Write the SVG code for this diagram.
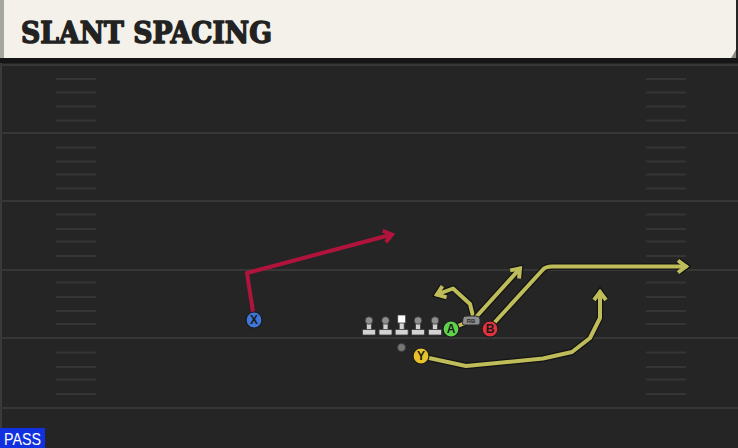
<svg xmlns="http://www.w3.org/2000/svg" width="738" height="448" viewBox="0 0 738 448">
<defs>
<style>
.yard{stroke:#373737;stroke-width:2;fill:none}
.hash{stroke:#353535;stroke-width:2;fill:none}
.ro{stroke:#141414;stroke-width:6.5;fill:none;stroke-linejoin:round;stroke-linecap:round}
.ry{stroke:#bfbd5a;stroke-width:4;fill:none;stroke-linejoin:round;stroke-linecap:round}
.rr{stroke:#b0143c;stroke-width:4;fill:none;stroke-linejoin:round;stroke-linecap:butt}
.pl{stroke:#1a1a1a;stroke-width:1.2}
.lt{font-family:"Liberation Sans",Arial,sans-serif;font-weight:bold;font-size:12px;fill:#1b1b1b;text-anchor:middle}
.lm{fill:#d2d2d2;stroke:#3a3a3a;stroke-width:0.8}
.hd{fill:#8e8e8e;stroke:#3a3a3a;stroke-width:0.8}
</style>
<marker id="ay" markerUnits="userSpaceOnUse" orient="auto" markerWidth="24" markerHeight="20" viewBox="-12 -10 24 20" refX="0" refY="0" overflow="visible">
<path d="M-8,-6 L0,0 L-8,6" fill="none" stroke="#bfbd5a" stroke-width="4" stroke-linejoin="miter"/>
</marker>
<marker id="ayo" markerUnits="userSpaceOnUse" orient="auto" markerWidth="24" markerHeight="20" viewBox="-12 -10 24 20" refX="0" refY="0" overflow="visible">
<path d="M-8,-6 L0,0 L-8,6" fill="none" stroke="#141414" stroke-width="6.5" stroke-linejoin="miter"/>
</marker>
<marker id="ar" markerUnits="userSpaceOnUse" orient="auto" markerWidth="24" markerHeight="20" viewBox="-12 -10 24 20" refX="0" refY="0" overflow="visible">
<path d="M-8,-6 L0,0 L-8,6" fill="none" stroke="#b0143c" stroke-width="4" stroke-linejoin="miter"/>
</marker>
<g id="lineman">
<rect class="lm" x="-2.5" y="2" width="5" height="9"/>
<rect class="lm" x="-6.5" y="9" width="13" height="5.5" rx="1"/>
<circle class="hd" cx="0" cy="0" r="3.8"/>
</g>
</defs>

<!-- field -->
<rect x="0" y="0" width="738" height="448" fill="#252525"/>
<rect x="0" y="58" width="738" height="5" fill="#151515"/>
<rect x="0" y="63" width="2" height="385" fill="#3a3a3a"/>
<g id="yardlines">
<line class="yard" x1="0" y1="65" x2="738" y2="65"/>
<line class="yard" x1="0" y1="133" x2="738" y2="133"/>
<line class="yard" x1="0" y1="201" x2="738" y2="201"/>
<line class="yard" x1="0" y1="270" x2="738" y2="270"/>
<line class="yard" x1="0" y1="338" x2="738" y2="338"/>
<line class="yard" x1="0" y1="408" x2="738" y2="408"/>
</g>
<g id="hashes">
<path class="hash" d="M56,79H96M56,92.5H96M56,106.5H96M56,120.5H96M56,147.5H96M56,161.5H96M56,174.5H96M56,188.5H96M56,214.5H96M56,229H96M56,241.5H96M56,256H96M56,282.5H96M56,297H96M56,311H96M56,324H96M56,352.5H96M56,367H96M56,379.5H96M56,394H96"/>
<path class="hash" d="M646,79H686M646,92.5H686M646,106.5H686M646,120.5H686M646,147.5H686M646,161.5H686M646,174.5H686M646,188.5H686M646,214.5H686M646,229H686M646,241.5H686M646,256H686M646,282.5H686M646,297H686M646,311H686M646,324H686M646,352.5H686M646,367H686M646,379.5H686M646,394H686"/>
</g>

<!-- header -->
<g id="header">
<polygon points="0,0 736,0 736,50 733,58 0,58" fill="#f4f1ea"/>
<polygon points="731,58 736,50 736,58" fill="#8a8a86"/>
<rect x="0" y="0" width="4" height="58" fill="#a6a6a0"/>
<text x="21" y="43" font-family="'DejaVu Serif',serif" font-weight="bold" font-size="29.5" fill="#222222" stroke="#222222" stroke-width="1.5" stroke-linejoin="round" textLength="251" lengthAdjust="spacingAndGlyphs">SLANT SPACING</text>
</g>

<!-- connectors -->
<g id="connectors">
<path class="rr" d="M253,312 L247,273 L392,234.5" marker-end="url(#ar)"/>
<g id="route-a">
<path class="ro" d="M458,326 L466,322.5"/>
<path class="ro" d="M473,316 L470,304 L453,288.5 L437,294.5" marker-end="url(#ayo)"/>
<path class="ry" d="M458,326 L466,322.5"/>
<path class="ry" d="M473,316 L470,304 L453,288.5 L437,294.5" marker-end="url(#ay)"/>
</g>
<g id="route-rb">
<path class="ro" d="M477,316 L520,268.5" marker-end="url(#ayo)"/>
<path class="ry" d="M477,316 L520,268.5" marker-end="url(#ay)"/>
</g>
<g id="route-b">
<path class="ro" d="M495,322 L543,269.5 Q546,266.5 552,266.5 L686,266.5" marker-end="url(#ayo)"/>
<path class="ry" d="M495,322 L543,269.5 Q546,266.5 552,266.5 L686,266.5" marker-end="url(#ay)"/>
</g>
<g id="route-y">
<path class="ro" d="M429,358 L466,366 L543,358.5 L572,352 L590,338 L600,318 L600,292" marker-end="url(#ayo)"/>
<path class="ry" d="M429,358 L466,366 L543,358.5 L572,352 L590,338 L600,318 L600,292" marker-end="url(#ay)"/>
</g>
</g>

<!-- offensive line -->
<g id="lt"><use href="#lineman" x="369" y="320.5"/></g>
<g id="lg"><use href="#lineman" x="385.5" y="320.5"/></g>
<g id="c">
<rect class="lm" x="399.2" y="322.5" width="5" height="9"/>
<rect class="lm" x="395.2" y="329.5" width="13" height="5.5" rx="1"/>
<rect x="397.7" y="315" width="8" height="8" fill="#ffffff" stroke="#3a3a3a" stroke-width="0.8"/>
</g>
<g id="rg"><use href="#lineman" x="418" y="320.5"/></g>
<g id="rt"><use href="#lineman" x="435" y="320.5"/></g>
<g id="ball"><circle cx="401.5" cy="347.5" r="4" fill="#777777" stroke="#3a3a3a" stroke-width="0.8"/></g>

<!-- skill players -->
<g id="rb">
<path d="M463,318 Q464,316 467,316 L476,316 Q479.5,316 480,319 L480,323 Q480,325 478,325 L464.5,325 Q462,325 462.5,322.5 Z" fill="#8e8e8e" stroke="#2a2a2a" stroke-width="1"/>
<text x="471" y="323.3" font-family="'Liberation Sans',Arial,sans-serif" font-weight="bold" font-size="6" fill="#2a2a2a" text-anchor="middle">RB</text>
</g>
<g id="x"><circle class="pl" cx="254" cy="320" r="8" fill="#3f76da"/><text class="lt" x="254" y="324.3">X</text></g>
<g id="a"><circle class="pl" cx="451" cy="329" r="8" fill="#5fd24b"/><text class="lt" x="451" y="333.3">A</text></g>
<g id="b"><circle class="pl" cx="490" cy="329" r="8" fill="#e2323e"/><text class="lt" x="490" y="333.3">B</text></g>
<g id="y"><circle class="pl" cx="421" cy="356" r="8" fill="#e8c229"/><text class="lt" x="421" y="360.3">Y</text></g>

<!-- pass tag -->
<g id="pass">
<rect x="0" y="428" width="45" height="20" fill="#1131e0"/>
<text x="4" y="445" font-family="'Liberation Sans',Arial,sans-serif" font-size="16" fill="#ffffff" textLength="37" lengthAdjust="spacingAndGlyphs">PASS</text>
</g>
</svg>
